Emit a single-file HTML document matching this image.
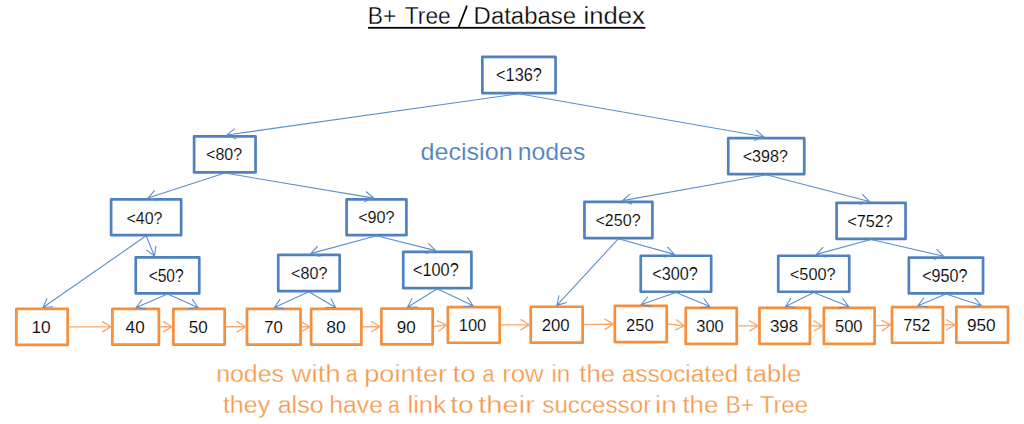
<!DOCTYPE html>
<html><head><meta charset="utf-8"><style>
html,body{margin:0;padding:0;background:#fff;}
body{width:1024px;height:424px;overflow:hidden;}
svg{display:block;font-family:"Liberation Sans", sans-serif;}
</style></head><body>
<svg width="1024" height="424" viewBox="0 0 1024 424">
<rect width="1024" height="424" fill="#fff"/>
<rect x="482.35" y="56.95" width="73.2" height="36.1" fill="#fff" stroke="#4F81BD" stroke-width="2.7" stroke-linejoin="round"/>
<rect x="194.1" y="136.35" width="61.45" height="36.05" fill="#fff" stroke="#4F81BD" stroke-width="2.7" stroke-linejoin="round"/>
<rect x="728.25" y="138.1" width="76" height="36.05" fill="#fff" stroke="#4F81BD" stroke-width="2.7" stroke-linejoin="round"/>
<rect x="111.1" y="199.45" width="70.05" height="35.7" fill="#fff" stroke="#4F81BD" stroke-width="2.7" stroke-linejoin="round"/>
<rect x="346.6" y="199.45" width="59.8" height="35.7" fill="#fff" stroke="#4F81BD" stroke-width="2.7" stroke-linejoin="round"/>
<rect x="584.45" y="201.95" width="67.95" height="36.1" fill="#fff" stroke="#4F81BD" stroke-width="2.7" stroke-linejoin="round"/>
<rect x="836.6" y="202.85" width="68.95" height="36.05" fill="#fff" stroke="#4F81BD" stroke-width="2.7" stroke-linejoin="round"/>
<rect x="135.75" y="257.35" width="63.5" height="36.05" fill="#fff" stroke="#4F81BD" stroke-width="2.7" stroke-linejoin="round"/>
<rect x="278.25" y="254.95" width="61.4" height="36.1" fill="#fff" stroke="#4F81BD" stroke-width="2.7" stroke-linejoin="round"/>
<rect x="403.25" y="251.95" width="68.15" height="36.1" fill="#fff" stroke="#4F81BD" stroke-width="2.7" stroke-linejoin="round"/>
<rect x="640.75" y="255.75" width="70.4" height="36" fill="#fff" stroke="#4F81BD" stroke-width="2.7" stroke-linejoin="round"/>
<rect x="778.25" y="255.75" width="71" height="36" fill="#fff" stroke="#4F81BD" stroke-width="2.7" stroke-linejoin="round"/>
<rect x="908.85" y="257.6" width="74.2" height="35.8" fill="#fff" stroke="#4F81BD" stroke-width="2.7" stroke-linejoin="round"/>
<rect x="16.35" y="308.85" width="51.3" height="36.05" fill="#fff" stroke="#F58E3D" stroke-width="2.7" stroke-linejoin="round"/>
<rect x="112.35" y="308.85" width="46.55" height="35.8" fill="#fff" stroke="#F58E3D" stroke-width="2.7" stroke-linejoin="round"/>
<rect x="173.35" y="308.85" width="51.3" height="35.8" fill="#fff" stroke="#F58E3D" stroke-width="2.7" stroke-linejoin="round"/>
<rect x="246.95" y="308.85" width="53.6" height="35.8" fill="#fff" stroke="#F58E3D" stroke-width="2.7" stroke-linejoin="round"/>
<rect x="311.1" y="308.85" width="50.3" height="35.8" fill="#fff" stroke="#F58E3D" stroke-width="2.7" stroke-linejoin="round"/>
<rect x="381.35" y="308.6" width="51.3" height="35.8" fill="#fff" stroke="#F58E3D" stroke-width="2.7" stroke-linejoin="round"/>
<rect x="447.85" y="307.1" width="51.8" height="35.65" fill="#fff" stroke="#F58E3D" stroke-width="2.7" stroke-linejoin="round"/>
<rect x="530.75" y="306.75" width="51.9" height="35.9" fill="#fff" stroke="#F58E3D" stroke-width="2.7" stroke-linejoin="round"/>
<rect x="614.85" y="305.95" width="51.9" height="36.1" fill="#fff" stroke="#F58E3D" stroke-width="2.7" stroke-linejoin="round"/>
<rect x="685.75" y="307.85" width="51" height="36.05" fill="#fff" stroke="#F58E3D" stroke-width="2.7" stroke-linejoin="round"/>
<rect x="759.45" y="307.85" width="50.45" height="36.05" fill="#fff" stroke="#F58E3D" stroke-width="2.7" stroke-linejoin="round"/>
<rect x="823.85" y="307.85" width="50.8" height="36.05" fill="#fff" stroke="#F58E3D" stroke-width="2.7" stroke-linejoin="round"/>
<rect x="891.95" y="307.05" width="51" height="35.7" fill="#fff" stroke="#F58E3D" stroke-width="2.7" stroke-linejoin="round"/>
<rect x="956.35" y="306.85" width="51.7" height="35.8" fill="#fff" stroke="#F58E3D" stroke-width="2.7" stroke-linejoin="round"/>
<path d="M518.95 93.7L226.9 135M236.29 138.98L226.9 135L234.82 128.57" stroke="#5F8ECB" stroke-width="1.1" fill="none"/>
<path d="M518.95 93.7L763.75 136.75M756.05 130.06L763.75 136.75L754.23 140.41" stroke="#5F8ECB" stroke-width="1.1" fill="none"/>
<path d="M224.82 173.05L148 198.1M157.94 200.38L148 198.1L154.68 190.4" stroke="#5F8ECB" stroke-width="1.1" fill="none"/>
<path d="M224.82 173.05L373.75 198.1M366 191.47L373.75 198.1L364.26 201.83" stroke="#5F8ECB" stroke-width="1.1" fill="none"/>
<path d="M766.25 174.8L622.5 200.6M632.03 204.23L622.5 200.6L630.18 193.88" stroke="#5F8ECB" stroke-width="1.1" fill="none"/>
<path d="M766.25 174.8L869.4 201.5M862.25 194.22L869.4 201.5L859.62 204.39" stroke="#5F8ECB" stroke-width="1.1" fill="none"/>
<path d="M146.12 235.8L43 307.5M53.18 306.82L43 307.5L47.18 298.2" stroke="#5F8ECB" stroke-width="1.1" fill="none"/>
<path d="M146.12 235.8L154.4 256M155.95 245.92L154.4 256L146.22 249.9" stroke="#5F8ECB" stroke-width="1.1" fill="none"/>
<path d="M376.5 235.8L310.6 253.6M320.41 256.39L310.6 253.6L317.67 246.25" stroke="#5F8ECB" stroke-width="1.1" fill="none"/>
<path d="M376.5 235.8L435.6 250.6M428.39 243.38L435.6 250.6L425.84 253.57" stroke="#5F8ECB" stroke-width="1.1" fill="none"/>
<path d="M618.42 238.7L556.9 305.4M566.69 302.54L556.9 305.4L558.97 295.41" stroke="#5F8ECB" stroke-width="1.1" fill="none"/>
<path d="M618.42 238.7L674.4 254.4M667.4 246.98L674.4 254.4L664.56 257.1" stroke="#5F8ECB" stroke-width="1.1" fill="none"/>
<path d="M871.08 239.55L816.25 254.4M826.06 257.18L816.25 254.4L823.32 247.04" stroke="#5F8ECB" stroke-width="1.1" fill="none"/>
<path d="M871.08 239.55L943.75 256.25M936.41 249.17L943.75 256.25L934.05 259.41" stroke="#5F8ECB" stroke-width="1.1" fill="none"/>
<path d="M167.5 294.05L136.25 307.5M146.36 308.87L136.25 307.5L142.2 299.22" stroke="#5F8ECB" stroke-width="1.1" fill="none"/>
<path d="M167.5 294.05L198 307.5M192.12 299.17L198 307.5L187.88 308.78" stroke="#5F8ECB" stroke-width="1.1" fill="none"/>
<path d="M308.95 291.7L274.4 307.5M284.54 308.64L274.4 307.5L280.17 299.09" stroke="#5F8ECB" stroke-width="1.1" fill="none"/>
<path d="M308.95 291.7L335.6 307.5M330.76 298.52L335.6 307.5L325.4 307.56" stroke="#5F8ECB" stroke-width="1.1" fill="none"/>
<path d="M437.32 288.7L407.5 307.25M417.7 307.09L407.5 307.25L412.15 298.17" stroke="#5F8ECB" stroke-width="1.1" fill="none"/>
<path d="M437.32 288.7L473 305.75M467.38 297.24L473 305.75L462.85 306.72" stroke="#5F8ECB" stroke-width="1.1" fill="none"/>
<path d="M675.95 292.4L641.25 304.6M651.24 306.66L641.25 304.6L647.76 296.74" stroke="#5F8ECB" stroke-width="1.1" fill="none"/>
<path d="M675.95 292.4L709.75 306.5M703.7 298.29L709.75 306.5L699.66 307.98" stroke="#5F8ECB" stroke-width="1.1" fill="none"/>
<path d="M813.75 292.4L785.6 306.5M795.77 307.28L785.6 306.5L791.06 297.89" stroke="#5F8ECB" stroke-width="1.1" fill="none"/>
<path d="M813.75 292.4L848.75 306.5M842.6 298.36L848.75 306.5L838.68 308.11" stroke="#5F8ECB" stroke-width="1.1" fill="none"/>
<path d="M945.95 294.05L918 305.7M928.09 307.19L918 305.7L924.05 297.49" stroke="#5F8ECB" stroke-width="1.1" fill="none"/>
<path d="M945.95 294.05L981.25 305.5M974.55 297.81L981.25 305.5L971.31 307.8" stroke="#5F8ECB" stroke-width="1.1" fill="none"/>
<path d="M69 326.88L111 326.75M101.98 321.37L111 326.75L102.02 332.18" stroke="#F9A86E" stroke-width="1.35" fill="none"/>
<path d="M160.25 326.75L172 326.75M163 321.34L172 326.75L163 332.16" stroke="#F9A86E" stroke-width="1.35" fill="none"/>
<path d="M226 326.75L245.6 326.75M236.6 321.34L245.6 326.75L236.6 332.16" stroke="#F9A86E" stroke-width="1.35" fill="none"/>
<path d="M301.9 326.75L309.75 326.75M300.75 321.34L309.75 326.75L300.75 332.16" stroke="#F9A86E" stroke-width="1.35" fill="none"/>
<path d="M362.75 326.75L380 326.5M370.92 321.22L380 326.5L371.08 332.04" stroke="#F9A86E" stroke-width="1.35" fill="none"/>
<path d="M434 326.5L446.5 324.93M436.89 320.68L446.5 324.93L438.25 331.42" stroke="#F9A86E" stroke-width="1.35" fill="none"/>
<path d="M501 324.93L529.4 324.7M520.36 319.36L529.4 324.7L520.44 330.18" stroke="#F9A86E" stroke-width="1.35" fill="none"/>
<path d="M584 324.7L613.5 324M604.37 318.81L613.5 324L604.63 329.62" stroke="#F9A86E" stroke-width="1.35" fill="none"/>
<path d="M668.1 324L684.4 325.88M676.08 319.47L684.4 325.88L674.84 330.22" stroke="#F9A86E" stroke-width="1.35" fill="none"/>
<path d="M738.1 325.88L758.1 325.88M749.1 320.47L758.1 325.88L749.1 331.28" stroke="#F9A86E" stroke-width="1.35" fill="none"/>
<path d="M811.25 325.88L822.5 325.88M813.5 320.47L822.5 325.88L813.5 331.28" stroke="#F9A86E" stroke-width="1.35" fill="none"/>
<path d="M876 325.88L890.6 324.9M881.26 320.1L890.6 324.9L881.98 330.9" stroke="#F9A86E" stroke-width="1.35" fill="none"/>
<path d="M944.3 324.9L955 324.75M945.92 319.47L955 324.75L946.08 330.28" stroke="#F9A86E" stroke-width="1.35" fill="none"/>
<text x="496.1" y="81.08" font-size="17.66" textLength="45.76" lengthAdjust="spacingAndGlyphs" fill="#000" stroke="#fff" stroke-width="0.15">&lt;136?</text>
<text x="206.11" y="160.09" font-size="16.24" textLength="35.98" lengthAdjust="spacingAndGlyphs" fill="#000" stroke="#fff" stroke-width="0.15">&lt;80?</text>
<text x="742.71" y="161.83" font-size="17.09" textLength="45.14" lengthAdjust="spacingAndGlyphs" fill="#000" stroke="#fff" stroke-width="0.15">&lt;398?</text>
<text x="126.46" y="223.59" font-size="15.89" textLength="36.03" lengthAdjust="spacingAndGlyphs" fill="#000" stroke="#fff" stroke-width="0.15">&lt;40?</text>
<text x="358.2" y="223.34" font-size="16.38" textLength="36.4" lengthAdjust="spacingAndGlyphs" fill="#000" stroke="#fff" stroke-width="0.15">&lt;90?</text>
<text x="595.46" y="225.84" font-size="16.38" textLength="45.14" lengthAdjust="spacingAndGlyphs" fill="#000" stroke="#fff" stroke-width="0.15">&lt;250?</text>
<text x="847.2" y="226.83" font-size="17.09" textLength="45.65" lengthAdjust="spacingAndGlyphs" fill="#000" stroke="#fff" stroke-width="0.15">&lt;752?</text>
<text x="148.63" y="281.72" font-size="18.22" textLength="35.04" lengthAdjust="spacingAndGlyphs" fill="#000" stroke="#fff" stroke-width="0.15">&lt;50?</text>
<text x="291.1" y="278.84" font-size="16.38" textLength="36.4" lengthAdjust="spacingAndGlyphs" fill="#000" stroke="#fff" stroke-width="0.15">&lt;80?</text>
<text x="412.95" y="276.08" font-size="17.66" textLength="45.76" lengthAdjust="spacingAndGlyphs" fill="#000" stroke="#fff" stroke-width="0.15">&lt;100?</text>
<text x="652.2" y="279.83" font-size="17.66" textLength="45.65" lengthAdjust="spacingAndGlyphs" fill="#000" stroke="#fff" stroke-width="0.15">&lt;300?</text>
<text x="789.8" y="279.84" font-size="16.81" textLength="45.81" lengthAdjust="spacingAndGlyphs" fill="#000" stroke="#fff" stroke-width="0.15">&lt;500?</text>
<text x="922.2" y="281.73" font-size="17.66" textLength="45.29" lengthAdjust="spacingAndGlyphs" fill="#000" stroke="#fff" stroke-width="0.15">&lt;950?</text>
<text x="31.43" y="332.94" font-size="16.74" textLength="19.24" lengthAdjust="spacingAndGlyphs" fill="#000" stroke="#fff" stroke-width="0.15">10</text>
<text x="125.61" y="332.94" font-size="16.74" textLength="19.06" lengthAdjust="spacingAndGlyphs" fill="#000" stroke="#fff" stroke-width="0.15">40</text>
<text x="188.72" y="332.94" font-size="16.74" textLength="18.95" lengthAdjust="spacingAndGlyphs" fill="#000" stroke="#fff" stroke-width="0.15">50</text>
<text x="264.15" y="332.94" font-size="16.74" textLength="18.5" lengthAdjust="spacingAndGlyphs" fill="#000" stroke="#fff" stroke-width="0.15">70</text>
<text x="326.24" y="332.94" font-size="16.74" textLength="19.44" lengthAdjust="spacingAndGlyphs" fill="#000" stroke="#fff" stroke-width="0.15">80</text>
<text x="396.7" y="332.94" font-size="16.74" textLength="18.97" lengthAdjust="spacingAndGlyphs" fill="#000" stroke="#fff" stroke-width="0.15">90</text>
<text x="458.74" y="330.64" font-size="16.53" textLength="27.5" lengthAdjust="spacingAndGlyphs" fill="#000" stroke="#fff" stroke-width="0.15">100</text>
<text x="541.66" y="330.59" font-size="16.45" textLength="28" lengthAdjust="spacingAndGlyphs" fill="#000" stroke="#fff" stroke-width="0.15">200</text>
<text x="626.07" y="330.74" font-size="16.81" textLength="27.58" lengthAdjust="spacingAndGlyphs" fill="#000" stroke="#fff" stroke-width="0.15">250</text>
<text x="696.28" y="331.74" font-size="16.81" textLength="27.37" lengthAdjust="spacingAndGlyphs" fill="#000" stroke="#fff" stroke-width="0.15">300</text>
<text x="769.95" y="331.74" font-size="16.81" textLength="28.28" lengthAdjust="spacingAndGlyphs" fill="#000" stroke="#fff" stroke-width="0.15">398</text>
<text x="834.94" y="331.74" font-size="16.81" textLength="27.61" lengthAdjust="spacingAndGlyphs" fill="#000" stroke="#fff" stroke-width="0.15">500</text>
<text x="903.17" y="330.63" font-size="17.02" textLength="27.05" lengthAdjust="spacingAndGlyphs" fill="#000" stroke="#fff" stroke-width="0.15">752</text>
<text x="966.94" y="331.08" font-size="17.3" textLength="28.73" lengthAdjust="spacingAndGlyphs" fill="#000" stroke="#fff" stroke-width="0.15">950</text>
<text x="367.83" y="24.4" font-size="23.5" textLength="28.49" lengthAdjust="spacingAndGlyphs" fill="#000" stroke="#fff" stroke-width="0.3">B+</text>
<text x="404.8" y="24.4" font-size="23.5" textLength="46" lengthAdjust="spacingAndGlyphs" fill="#000" stroke="#fff" stroke-width="0.3">Tree</text>
<text x="473.64" y="24.4" font-size="23.5" textLength="102.43" lengthAdjust="spacingAndGlyphs" fill="#000" stroke="#fff" stroke-width="0.3">Database</text>
<text x="583.48" y="24.4" font-size="23.5" textLength="61.29" lengthAdjust="spacingAndGlyphs" fill="#000" stroke="#fff" stroke-width="0.3">index</text>
<path d="M458.6 27.3L467 5.6" stroke="#000" stroke-width="1.7"/>
<rect x="368.1" y="26.9" width="277.2" height="1.8" fill="#000"/>
<text x="420.44" y="160.1" font-size="23.2" textLength="92.19" lengthAdjust="spacingAndGlyphs" fill="#4F81BD" stroke="#fff" stroke-width="0.15">decision</text>
<text x="517.65" y="160.1" font-size="23.2" textLength="67.75" lengthAdjust="spacingAndGlyphs" fill="#4F81BD" stroke="#fff" stroke-width="0.15">nodes</text>
<text x="216.15" y="382.1" font-size="23" textLength="67.85" lengthAdjust="spacingAndGlyphs" fill="#F79646" stroke="#fff" stroke-width="0.3">nodes</text>
<text x="291.64" y="382.1" font-size="23" textLength="49.05" lengthAdjust="spacingAndGlyphs" fill="#F79646" stroke="#fff" stroke-width="0.3">with</text>
<text x="345.79" y="382.1" font-size="23" textLength="11.91" lengthAdjust="spacingAndGlyphs" fill="#F79646" stroke="#fff" stroke-width="0.3">a</text>
<text x="364.25" y="382.1" font-size="23" textLength="82.9" lengthAdjust="spacingAndGlyphs" fill="#F79646" stroke="#fff" stroke-width="0.3">pointer</text>
<text x="452.58" y="382.1" font-size="23" textLength="23.4" lengthAdjust="spacingAndGlyphs" fill="#F79646" stroke="#fff" stroke-width="0.3">to</text>
<text x="482.49" y="382.1" font-size="23" textLength="11.91" lengthAdjust="spacingAndGlyphs" fill="#F79646" stroke="#fff" stroke-width="0.3">a</text>
<text x="502.19" y="382.1" font-size="23" textLength="41.5" lengthAdjust="spacingAndGlyphs" fill="#F79646" stroke="#fff" stroke-width="0.3">row</text>
<text x="551.48" y="382.1" font-size="23" textLength="18.84" lengthAdjust="spacingAndGlyphs" fill="#F79646" stroke="#fff" stroke-width="0.3">in</text>
<text x="579.31" y="382.1" font-size="23" textLength="35.84" lengthAdjust="spacingAndGlyphs" fill="#F79646" stroke="#fff" stroke-width="0.3">the</text>
<text x="621.66" y="382.1" font-size="23" textLength="116.61" lengthAdjust="spacingAndGlyphs" fill="#F79646" stroke="#fff" stroke-width="0.3">associated</text>
<text x="745.61" y="382.1" font-size="23" textLength="55.53" lengthAdjust="spacingAndGlyphs" fill="#F79646" stroke="#fff" stroke-width="0.3">table</text>
<text x="222.92" y="413.4" font-size="23" textLength="47.33" lengthAdjust="spacingAndGlyphs" fill="#F79646" stroke="#fff" stroke-width="0.3">they</text>
<text x="277.69" y="413.4" font-size="23" textLength="45.86" lengthAdjust="spacingAndGlyphs" fill="#F79646" stroke="#fff" stroke-width="0.3">also</text>
<text x="329.39" y="413.4" font-size="23" textLength="53.61" lengthAdjust="spacingAndGlyphs" fill="#F79646" stroke="#fff" stroke-width="0.3">have</text>
<text x="388" y="413.4" font-size="23" textLength="11.8" lengthAdjust="spacingAndGlyphs" fill="#F79646" stroke="#fff" stroke-width="0.3">a</text>
<text x="407.47" y="413.4" font-size="23" textLength="38.49" lengthAdjust="spacingAndGlyphs" fill="#F79646" stroke="#fff" stroke-width="0.3">link</text>
<text x="450.17" y="413.4" font-size="23" textLength="23.51" lengthAdjust="spacingAndGlyphs" fill="#F79646" stroke="#fff" stroke-width="0.3">to</text>
<text x="478.31" y="413.4" font-size="23" textLength="56.57" lengthAdjust="spacingAndGlyphs" fill="#F79646" stroke="#fff" stroke-width="0.3">their</text>
<text x="542.33" y="413.4" font-size="23" textLength="108.87" lengthAdjust="spacingAndGlyphs" fill="#F79646" stroke="#fff" stroke-width="0.3">successor</text>
<text x="655.14" y="413.4" font-size="23" textLength="21.67" lengthAdjust="spacingAndGlyphs" fill="#F79646" stroke="#fff" stroke-width="0.3">in</text>
<text x="682.41" y="413.4" font-size="23" textLength="35.94" lengthAdjust="spacingAndGlyphs" fill="#F79646" stroke="#fff" stroke-width="0.3">the</text>
<text x="725.41" y="413.4" font-size="23" textLength="28.83" lengthAdjust="spacingAndGlyphs" fill="#F79646" stroke="#fff" stroke-width="0.3">B+</text>
<text x="759.67" y="413.4" font-size="23" textLength="48.37" lengthAdjust="spacingAndGlyphs" fill="#F79646" stroke="#fff" stroke-width="0.3">Tree</text>
</svg>
</body></html>
